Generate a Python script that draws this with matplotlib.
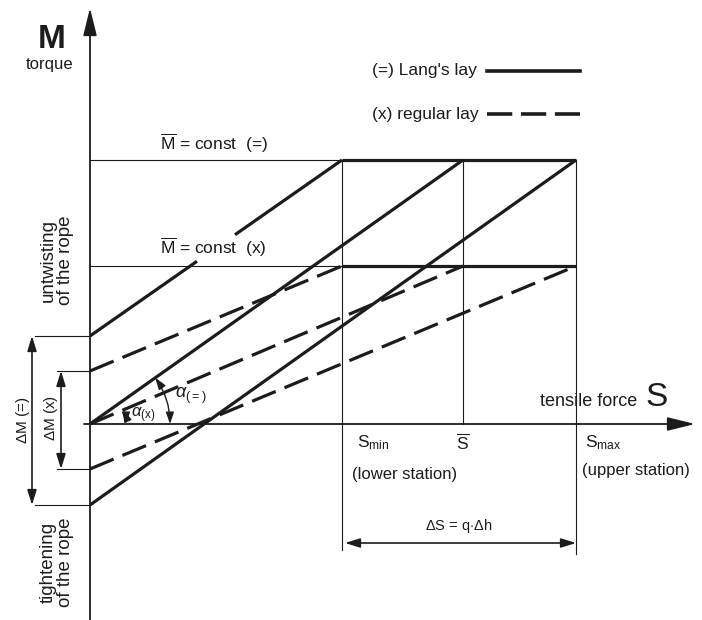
import numpy as np
import matplotlib
matplotlib.use("Agg")
import matplotlib.pyplot as plt
from matplotlib.patches import FancyArrowPatch

plt.rcParams['font.family'] = ['Liberation Sans', 'DejaVu Sans']
plt.rcParams['mathtext.fontset'] = 'custom'
plt.rcParams['mathtext.rm'] = 'Liberation Sans'
plt.rcParams['mathtext.it'] = 'Liberation Sans:italic'

# tensile force positions and mean torque levels (drawing units)
S_min, S_bar, S_max = 252, 373, 486
M_lang, M_reg = 264, 158
line_end_S = [S_min, S_bar, S_max]
lang_start = [88, 0, -81]   # torque at S = 0, Lang's lay
reg_start = [53, 0, -45]    # torque at S = 0, regular lay
label_gap = (107, 145)      # gap in upper Lang's line for the label

ink = '#1c1c1c'
thick = 2.3
thin = 0.8

fig = plt.figure(figsize=(7.02, 6.2), dpi=100)
ax = fig.add_axes([0, 0, 1, 1])
ax.set_xlim(-90, 612)
ax.set_ylim(-196, 424)
ax.axis('off')

# axes with arrows
axis_kw = dict(arrowstyle='-|>,head_length=0.65,head_width=0.16', mutation_scale=26,
               lw=1.3, color=ink, shrinkA=0, shrinkB=0)
ax.annotate('', xy=(0, 416), xytext=(0, -196), arrowprops=axis_kw)
ax.annotate('', xy=(605, 0), xytext=(-6, 0), arrowprops=axis_kw)

# mean torque levels: thin to S_min, thick from S_min to S_max
for M in [M_lang, M_reg]:
    ax.plot([0, S_min], [M, M], color=ink, lw=thin)
    ax.plot([S_min, S_max], [M, M], color=ink, lw=thick, solid_capstyle='butt')

# verticals
ax.plot([S_min, S_min], [M_lang, -126], color=ink, lw=thin)
ax.plot([S_bar, S_bar], [M_lang, 0], color=ink, lw=thin)
ax.plot([S_max, S_max], [M_lang, -130], color=ink, lw=thin)

# Lang's lay (solid)
for i, (m0, s1) in enumerate(zip(lang_start, line_end_S)):
    if i == 0:
        for a, b in [(0, label_gap[0]), (label_gap[1], s1)]:
            ya = np.interp([a, b], [0, s1], [m0, M_lang])
            ax.plot([a, b], ya, color=ink, lw=thick, solid_capstyle='butt')
    else:
        ax.plot([0, s1], [m0, M_lang], color=ink, lw=thick, solid_capstyle='butt')

# regular lay (dashed)
for m0, s1 in zip(reg_start, line_end_S):
    ax.plot([0, s1], [m0, M_reg], color=ink, lw=thick, linestyle=(0, (8, 3)))

# legend
ax.plot([397, 490], [353, 353], color=ink, lw=thick + 0.3)
ax.plot([397, 490], [310, 310], color=ink, lw=thick + 0.3, linestyle=(0, (7, 2.4)))
ax.text(282, 353, "(=) Lang's lay", fontsize=12.5, ha='left', va='center', color=ink)
ax.text(282, 310, "(x) regular lay", fontsize=12.5, ha='left', va='center', color=ink)

# delta M dimensions
arrow_kw = dict(arrowstyle='<|-|>,head_length=0.45,head_width=0.14', mutation_scale=20,
                lw=1.2, color=ink, shrinkA=0, shrinkB=0)
ax.plot([-55, 0], [lang_start[0]] * 2, color=ink, lw=thin)
ax.plot([-55, 0], [lang_start[2]] * 2, color=ink, lw=thin)
ax.annotate('', xy=(-58, lang_start[0]), xytext=(-58, lang_start[2]), arrowprops=arrow_kw)
ax.plot([-33, 0], [reg_start[0]] * 2, color=ink, lw=thin)
ax.plot([-33, 0], [reg_start[2]] * 2, color=ink, lw=thin)
ax.annotate('', xy=(-29, reg_start[0]), xytext=(-29, reg_start[2]), arrowprops=arrow_kw)
ax.text(-67, 4, r"$\Delta$M (=)", fontsize=11, rotation=90, ha='center', va='center', color=ink)
ax.text(-39, 6, r"$\Delta$M (x)", fontsize=11, rotation=90, ha='center', va='center', color=ink)

# angle arcs
for slope_M, slope_S, r in [(M_reg, S_bar, 36), (M_lang, S_bar, 80)]:
    th = np.arctan2(slope_M, slope_S)
    arc = FancyArrowPatch((r, 0), (r * np.cos(th), r * np.sin(th)),
                          connectionstyle='arc3,rad=%.3f' % np.tan(th / 4),
                          arrowstyle='<|-|>,head_length=0.35,head_width=0.12',
                          mutation_scale=20, lw=1.0, color=ink, shrinkA=0, shrinkB=0)
    ax.add_patch(arc)
ax.text(41, 9, r"$\alpha_{\mathrm{(x)}}$", fontsize=12, ha='left', va='center', color=ink)
ax.text(85, 28, r"$\alpha_{\mathrm{(=)}}$", fontsize=13, ha='left', va='center', color=ink)

# texts
ax.text(-38, 385, "M", fontsize=24, fontweight='bold', ha='center', va='center', color=ink)
ax.text(-40, 360, "torque", fontsize=12, ha='center', va='center', color=ink)
ax.text(70, 281, r"$\overline{\mathrm{M}}$ = const  (=)", fontsize=12.5, ha='left', va='center', color=ink)
ax.text(70, 177, r"$\overline{\mathrm{M}}$ = const  (x)", fontsize=12.5, ha='left', va='center', color=ink)
ax.text(-33, 164, "untwisting\nof the rope", fontsize=13.5, rotation=90, ha='center',
        va='center', multialignment='center', linespacing=1.05, color=ink)
ax.text(-33, -138, "tightening\nof the rope", fontsize=13.5, rotation=90, ha='center',
        va='center', multialignment='center', linespacing=1.05, color=ink)
ax.text(450, 22, "tensile force", fontsize=13, ha='left', va='center', color=ink)
ax.text(555, 27, "S", fontsize=24, ha='left', va='center', color=ink)

ax.text(267, -19, r"S$_{\mathrm{min}}$", fontsize=12.5, ha='left', va='center', color=ink)
ax.text(262, -50, "(lower station)", fontsize=12, ha='left', va='center', color=ink)
ax.text(S_bar, -18, r"$\overline{\mathrm{S}}$", fontsize=12.5, ha='center', va='center', color=ink)
ax.text(495, -19, r"S$_{\mathrm{max}}$", fontsize=12.5, ha='left', va='center', color=ink)
ax.text(492, -47, "(upper station)", fontsize=12, ha='left', va='center', color=ink)

ax.text((S_min + S_max) / 2, -102, r"$\Delta$S = q$\cdot\Delta$h", fontsize=10.5,
        ha='center', va='center', color=ink)
ax.annotate('', xy=(S_min + 3, -119), xytext=(S_max, -119), arrowprops=arrow_kw)

fig.savefig("out.png", dpi=100, facecolor='white')
